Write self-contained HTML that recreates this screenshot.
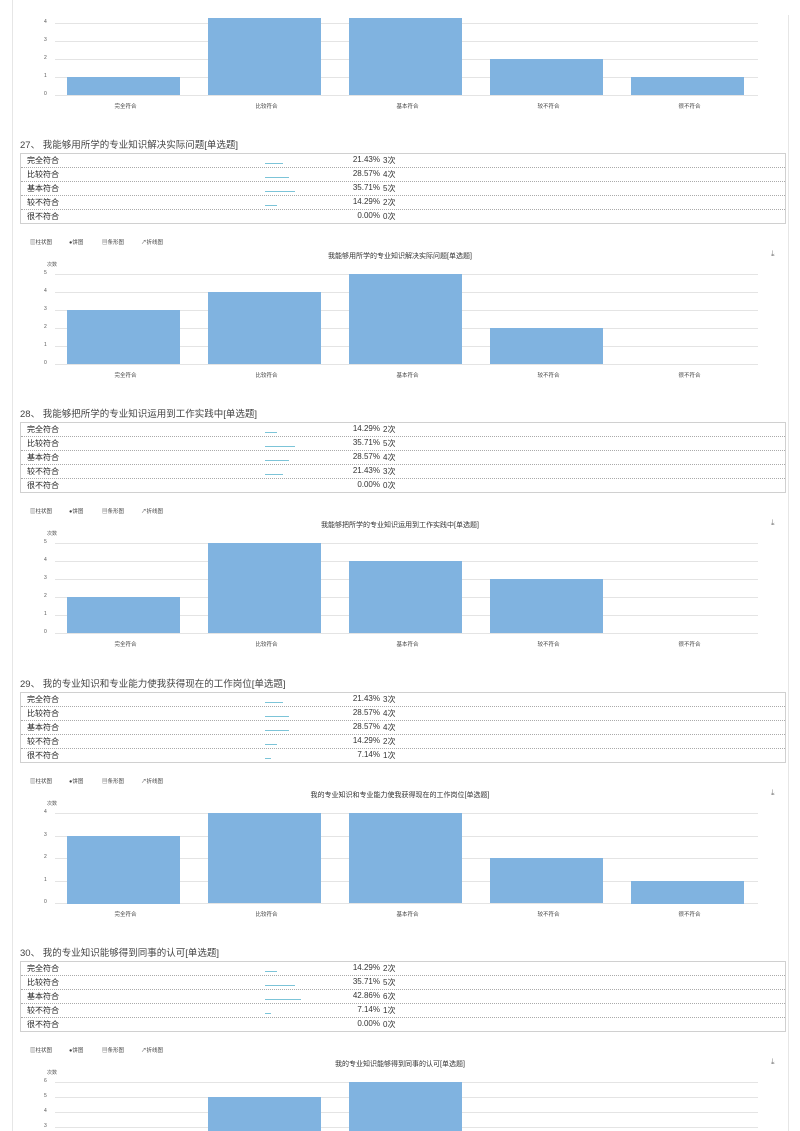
<!DOCTYPE html>
<html style="overflow:hidden;height:1131px"><head><meta charset="utf-8"><style>
html,body{margin:0;padding:0}
body{width:800px;height:1131px;overflow:hidden;background:#fff;font-family:"Liberation Sans","Noto Sans CJK SC",sans-serif;color:#333}
#wrap{position:relative;width:800px;height:1131px;overflow:hidden}
.a{position:absolute;white-space:nowrap}
</style></head><body><div id="wrap">
<div class="a" style="left:12px;top:0;width:1px;height:1131px;background:#e6e6e6"></div>
<div class="a" style="left:788px;top:15px;width:1px;height:1116px;background:#e6e6e6"></div>
<div id="root"></div>
</div>
<script>
var R=document.getElementById('root'),h='';
var cats=['完全符合','比较符合','基本符合','较不符合','很不符合'];
function A(s,t){h+='<div class="a" style="'+s+'">'+(t===undefined?'':t)+'</div>';}
function chart(T,vals,ymax,clipTop){
  var zero=T+220,u=90/ymax;
  for(var i=0;i<=ymax;i++){var y=zero-i*u;
    if(y<-5||y>1131)continue;
    if(clipTop!==undefined&&y<clipTop)continue;
    A('left:55px;top:'+Math.round(y)+'px;width:703px;height:1px;background:#e4e4e4');
    A('left:44px;top:'+Math.round(y-4)+'px;font-size:5px;color:#555',String(i));}
  for(var k=0;k<5;k++){var bh=vals[k]*u,bt=zero-bh;if(clipTop!==undefined&&bt<clipTop){bt=clipTop;}
    if(vals[k]>0)A('left:'+(67+141*k)+'px;top:'+Math.round(bt)+'px;width:113px;height:'+Math.round(zero-bt)+'px;background:#80b3e0');
    A('left:'+(55+141*k)+'px;top:'+(zero+7)+'px;width:141px;text-align:center;font-size:5.5px;color:#444',cats[k]);}
}
function sec(T,title,rows,ymax){
  A('left:20px;top:'+(T-7)+'px;font-size:9.5px;color:#444',title);
  var tt=T+9;
  A('left:20px;top:'+tt+'px;width:766px;height:71px;border:1px solid #d0d0d0;box-sizing:border-box');
  for(var i=0;i<5;i++){var y=tt+i*14;
    if(i>0)A('left:21px;top:'+y+'px;width:764px;height:0;border-top:1px dotted #aaa');
    A('left:27px;top:'+(y+2)+'px;font-size:8px;color:#222',cats[i]);
    var p=rows[i][0];
    if(p>0)A('left:265px;top:'+(y+10)+'px;width:'+Math.round(p*0.84)+'px;height:1px;background:#7cc4d8');
    A('left:300px;top:'+(y+2)+'px;width:80px;text-align:right;font-size:8px;color:#333',p.toFixed(2)+'%');
    A('left:383px;top:'+(y+2)+'px;font-size:8px;color:#333',rows[i][1]+'次');}
  var tb=T+97;
  A('left:30px;top:'+(tb-3)+'px;font-size:5.5px;color:#444','▥柱状图');
  A('left:69px;top:'+(tb-3)+'px;font-size:5.5px;color:#444','●饼图');
  A('left:102px;top:'+(tb-3)+'px;font-size:5.5px;color:#444','▤条形图');
  A('left:141px;top:'+(tb-3)+'px;font-size:5.5px;color:#444','↗折线图');
  A('left:0;width:800px;text-align:center;top:'+(T+107)+'px;font-size:7px;color:#333',title.replace(/^\d+、\s*/,''));
  A('left:771px;top:'+(T+105)+'px;font-size:8px;color:#777','⤓');
  A('left:47px;top:'+(T+117)+'px;font-size:5px;color:#555','次数');
  chart(T,rows.map(function(r){return r[1]}),ymax);
}
chart(-125,[1,5,5,2,1],5,18);
sec(144,'27、 我能够用所学的专业知识解决实际问题[单选题]',[[21.43,3],[28.57,4],[35.71,5],[14.29,2],[0,0]],5);
sec(413,'28、 我能够把所学的专业知识运用到工作实践中[单选题]',[[14.29,2],[35.71,5],[28.57,4],[21.43,3],[0,0]],5);
sec(683,'29、 我的专业知识和专业能力使我获得现在的工作岗位[单选题]',[[21.43,3],[28.57,4],[28.57,4],[14.29,2],[7.14,1]],4);
sec(952,'30、 我的专业知识能够得到同事的认可[单选题]',[[14.29,2],[35.71,5],[42.86,6],[7.14,1],[0,0]],6);
R.innerHTML=h;
</script>
</body></html>
